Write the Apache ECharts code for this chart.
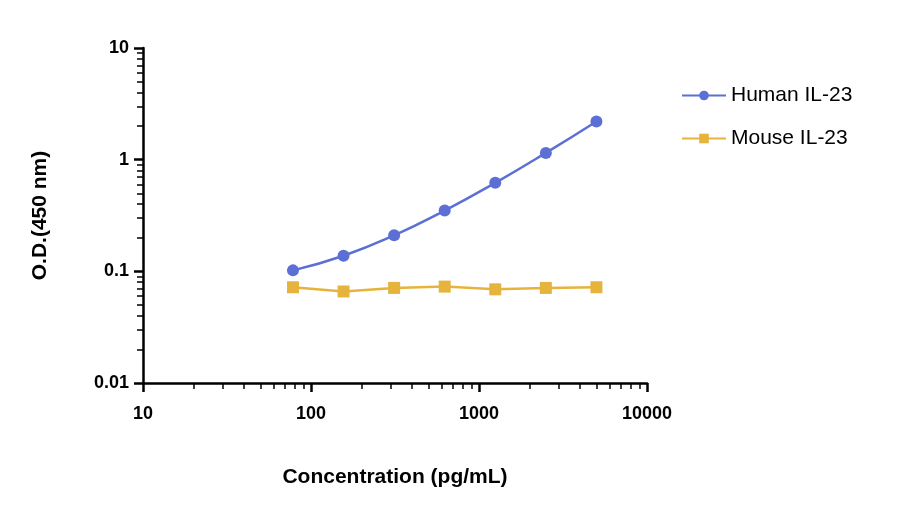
<!DOCTYPE html>
<html>
<head>
<meta charset="utf-8">
<script src="https://cdn.jsdelivr.net/npm/echarts@6/dist/echarts.min.js"></script>
<style>html,body{margin:0;padding:0;background:#fff}#chart{width:918px;height:507px}</style>
</head>
<body>
<div id="chart"></div>
<script>
var concentrations = [78.125, 156.25, 312.5, 625, 1250, 2500, 5000];
var humanOD = [0.102, 0.138, 0.21, 0.35, 0.62, 1.15, 2.2];
var mouseOD = [0.072, 0.066, 0.071, 0.073, 0.069, 0.071, 0.072];

function pairs(xs, ys) {
    return xs.map(function (x, i) { return [x, ys[i]]; });
}
function plain(v) { return String(v); }

var chart = echarts.init(document.getElementById('chart'));
var axisFont = { fontFamily: 'Arial, Liberation Sans', fontSize: 18, fontWeight: 'bold', color: '#000' };
var titleFont = { fontFamily: 'Arial, Liberation Sans', fontSize: 21, fontWeight: 'bold', color: '#000' };
var option = {
    animation: false,
    grid: { left: 143, right: 271, top: 48, bottom: 124 },
    legend: {
        orient: 'vertical',
        left: 676,
        top: 80,
        itemGap: 22,
        itemWidth: 44,
        itemHeight: 12,
        textStyle: { fontFamily: 'Arial, Liberation Sans', fontSize: 21, color: '#000' },
        data: ['Human IL-23', 'Mouse IL-23']
    },
    xAxis: {
        type: 'log',
        min: 10,
        max: 10000,
        name: 'Concentration (pg/mL)',
        nameLocation: 'middle',
        nameGap: 84,
        nameTextStyle: titleFont,
        axisLine: { lineStyle: { color: '#000', width: 2.5 } },
        axisTick: { length: 9, lineStyle: { color: '#000', width: 2.5 } },
        minorTick: { show: true, splitNumber: 9, length: 6, lineStyle: { color: '#000', width: 1.5 } },
        axisLabel: Object.assign({ margin: 22, formatter: plain }, axisFont),
        splitLine: { show: false }
    },
    yAxis: {
        type: 'log',
        min: 0.01,
        max: 10,
        name: 'O.D.(450 nm)',
        nameLocation: 'middle',
        nameGap: 92,
        nameTextStyle: titleFont,
        axisLine: { show: true, lineStyle: { color: '#000', width: 2.5 } },
        axisTick: { show: true, length: 9, lineStyle: { color: '#000', width: 2.5 } },
        minorTick: { show: true, splitNumber: 9, length: 6, lineStyle: { color: '#000', width: 1.5 } },
        axisLabel: Object.assign({ margin: 14, formatter: plain }, axisFont),
        splitLine: { show: false }
    },
    series: [{
        name: 'Human IL-23',
        type: 'line',
        smooth: true,
        symbol: 'circle',
        symbolSize: 12,
        data: pairs(concentrations, humanOD),
        lineStyle: { color: '#5b6fd5', width: 2.5 },
        itemStyle: { color: '#5b6fd5' }
    }, {
        name: 'Mouse IL-23',
        type: 'line',
        symbol: 'rect',
        symbolSize: 12,
        data: pairs(concentrations, mouseOD),
        lineStyle: { color: '#e6b43c', width: 2.5 },
        itemStyle: { color: '#e6b43c' }
    }]
};
chart.setOption(option);
window.onresize = function () { chart.resize(); };
</script>
</body>
</html>
